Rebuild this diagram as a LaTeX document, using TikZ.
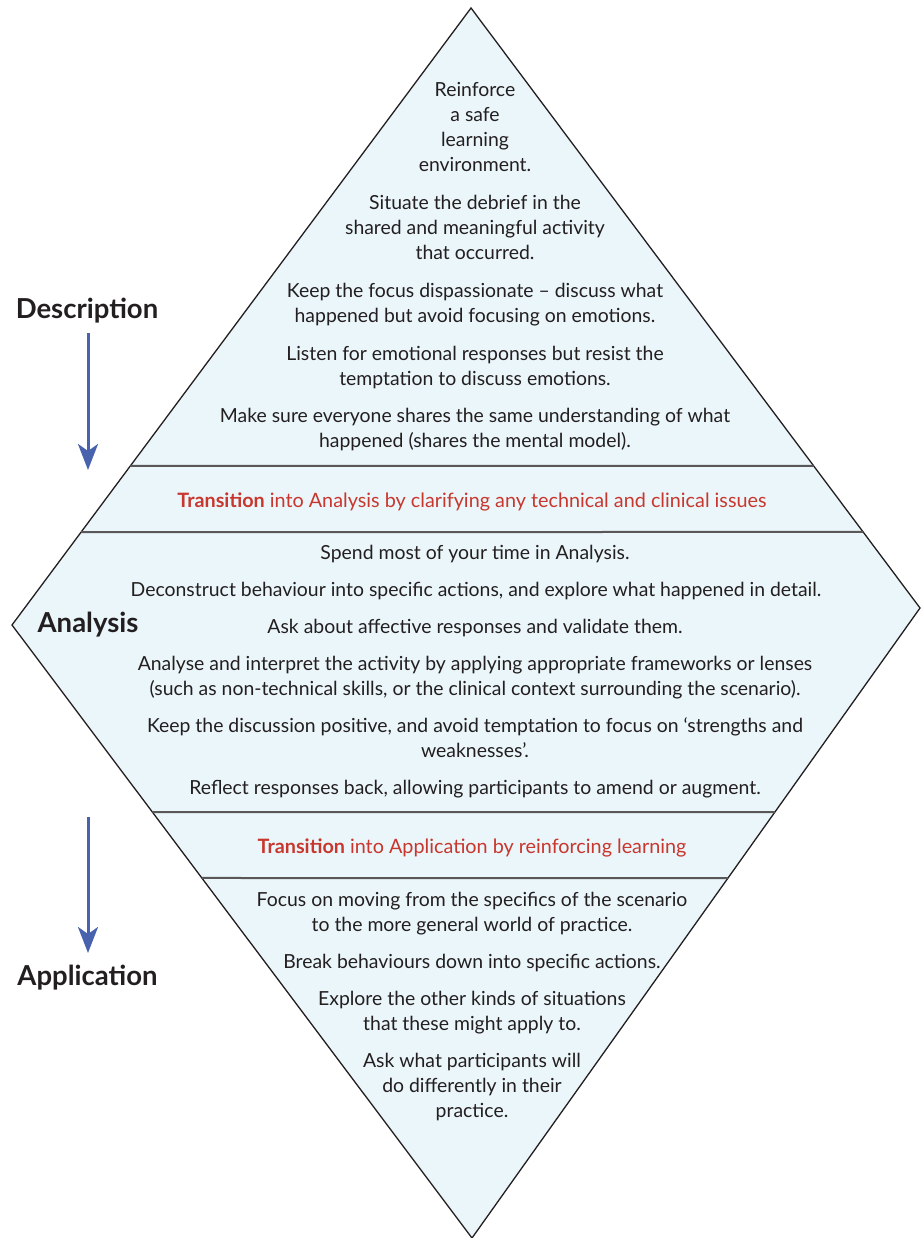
\documentclass[tikz,border=0pt]{standalone}
\usepackage{fontspec}
\setmainfont{Lato}
\usetikzlibrary{arrows.meta,calc}
\definecolor{fillblue}{HTML}{EBF6FB}
\definecolor{redt}{HTML}{C8372D}
\definecolor{arrowblue}{HTML}{4862AE}
\definecolor{ink}{HTML}{231F20}
\begin{document}
\begin{tikzpicture}[x=1pt,y=-1pt,
  body/.style={font=\fontsize{19.4}{25}\selectfont, align=center, text=ink, inner sep=0pt, anchor=base},
  trans/.style={font=\fontsize{19.8}{25}\selectfont, text=redt, inner sep=0pt, anchor=base},
  phase/.style={font=\fontsize{27.5}{30}\selectfont\bfseries, text=ink, inner sep=0pt, anchor=base},
  outline/.style={draw=ink, line width=1.3pt, fill=fillblue, line join=miter},
  band/.style={draw=ink!75, line width=2pt},
  flow/.style={draw=arrowblue, line width=3pt, -{Stealth[length=26pt,width=20pt,inset=7pt]}}]
\useasboundingbox (0,0) rectangle (920,1238);
\coordinate (T) at (471,8);
\coordinate (L) at (12,625);
\coordinate (R) at (920,608);
\coordinate (B) at (472,1238);
\path[outline] (T) -- (R) -- (B) -- (L) -- cycle;
% bands
\coordinate (b1l) at ($(T)!0.7423!(L)$);
\coordinate (b1r) at ($(T)!0.7633!(R)$);
\coordinate (b2l) at ($(T)!0.8493!(L)$);
\coordinate (b2r) at ($(T)!0.8733!(R)$);
\coordinate (b3l) at ($(L)!0.3051!(B)$);
\coordinate (b3r) at ($(R)!0.3238!(B)$);
\coordinate (b4l) at ($(L)!0.4127!(B)$);
\coordinate (b4r) at ($(R)!0.4286!(B)$);
\draw[band] (b1l) -- (b1r);
\draw[band] (b2l) -- (b2r);
\draw[band] (b3l) -- (b3r);
\draw[band] (b4l) -- (b4r);
% description section (y = baseline of last line)
\node[body] (d1) at (475,172) {Reinforce\\a safe\\learning\\environment.};
\node[body] (d2) at (475,260) {Situate the debrief in the\\shared and meaningful activity\\that occurred.};
\node[body] (d3) at (475,323) {Keep the focus dispassionate -- discuss what\\happened but avoid focusing on emotions.};
\node[body] (d4) at (475,385) {Listen for emotional responses but resist the\\temptation to discuss emotions.};
\node[body] (d5) at (475,447) {Make sure everyone shares the same understanding of what\\happened (shares the mental model).};
\node[trans] (t1) at (472,507) {\textbf{Transition} into Analysis by clarifying any technical and clinical issues};
% analysis section
\node[body] (a1) at (475,559) {Spend most of your time in Analysis.};
\node[body] (a2) at (476,596) {Deconstruct behaviour into specific actions, and explore what happened in detail.};
\node[body] (a3) at (475,633) {Ask about affective responses and validate them.};
\node[body] (a4) at (475,695) {Analyse and interpret the activity by applying appropriate frameworks or lenses\\(such as non-technical skills, or the clinical context surrounding the scenario).};
\node[body] (a5) at (475,757) {Keep the discussion positive, and avoid temptation to focus on `strengths and\\weaknesses'.};
\node[body] (a6) at (475,794) {Reflect responses back, allowing participants to amend or augment.};
\node[trans] (t2) at (472,853) {\textbf{Transition} into Application by reinforcing learning};
% application section
\node[body] (p1) at (472,931) {Focus on moving from the specifics of the scenario\\to the more general world of practice.};
\node[body] (p2) at (472,968) {Break behaviours down into specific actions.};
\node[body] (p3) at (472,1030) {Explore the other kinds of situations\\that these might apply to.};
\node[body] (p4) at (472,1117) {Ask what participants will\\do differently in their\\practice.};
% phase labels
\node[phase] (desc) at (87,318) {Description};
\node[phase] (anal) at (88,632) {Analysis};
\node[phase] (appl) at (87.5,985) {Application};
\coordinate (da0) at (88,333);
\coordinate (da1) at (88,470);
\coordinate (pa0) at (88,817);
\coordinate (pa1) at (88,953);
\draw[flow] (da0) -- (da1);
\draw[flow] (pa0) -- (pa1);
\end{tikzpicture}
\end{document}
